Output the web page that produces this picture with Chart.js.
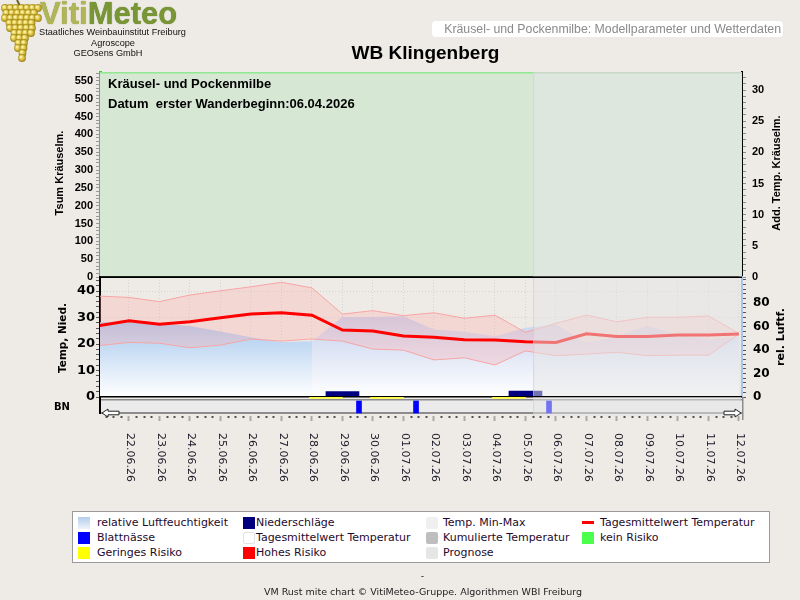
<!DOCTYPE html>
<html lang="de"><head><meta charset="utf-8"><title>WB Klingenberg</title>
<script src="https://cdn.jsdelivr.net/npm/chart.js@4.4.1/dist/chart.umd.min.js"></script>
<style>
html,body{margin:0;padding:0}
body{width:800px;height:600px;background:#EEEBE6;position:relative;overflow:hidden;font-family:"DejaVu Sans",sans-serif}
canvas.layer{position:absolute;left:0;top:0}
.abs{position:absolute;white-space:nowrap}
.vt{position:absolute;white-space:nowrap;transform:translate(-50%,-50%) rotate(-90deg)}
.lg{position:absolute;font:11px "DejaVu Sans";color:#1E0A2E;line-height:13px;white-space:nowrap}
.sw{position:absolute;width:12px;height:12px}
</style></head><body>
<canvas id="logo" width="46" height="64" style="position:absolute;left:0;top:0"></canvas>
<div class="abs" style="left:40px;top:-2px;font:bold 31px 'Liberation Sans';line-height:31px"><span style="color:#B0B657;text-shadow:0 0 1px #6E7A20">Viti</span><span style="color:#789634;text-shadow:0 0 1px #4E6A18">Meteo</span></div>
<div class="abs" style="left:39px;top:26px;font:9.2px 'Liberation Sans';line-height:12px;color:#111">Staatliches Weinbauinstitut Freiburg</div>
<div class="abs" style="left:53px;width:120px;text-align:center;top:37px;font:9.2px 'Liberation Sans';line-height:12px;color:#111">Agroscope</div>
<div class="abs" style="left:48px;width:120px;text-align:center;top:47px;font:9.2px 'Liberation Sans';line-height:12px;color:#111">GEOsens GmbH</div>

<div class="abs" style="left:432px;top:21px;width:351px;height:16px;background:#fff;border-radius:4px"></div>
<div class="abs" style="left:432px;top:21px;width:349px;text-align:right;font:12.3px 'Liberation Sans';line-height:16px;color:#8A8A8A">Kräusel- und Pockenmilbe: Modellparameter und Wetterdaten</div>
<div class="abs" style="left:300px;width:251px;text-align:center;top:42px;font:bold 19px 'Liberation Sans';line-height:22px;color:#000">WB Klingenberg</div>

<canvas id="cTop" class="layer" width="800" height="600"></canvas>
<canvas id="cMid" class="layer" width="800" height="600"></canvas>
<canvas id="cBN" class="layer" width="800" height="600"></canvas>

<div class="abs" style="left:108px;top:76px;font:bold 13px 'Liberation Sans';line-height:15px;color:#000">Kräusel- und Pockenmilbe</div>
<div class="abs" style="left:108px;top:96px;font:bold 13px 'Liberation Sans';line-height:15px;color:#000;white-space:pre">Datum  erster Wanderbeginn:06.04.2026</div>

<div class="vt" style="left:59px;top:173px;font:bold 11px 'Liberation Sans';color:#000">Tsum Kräuselm.</div>
<div class="vt" style="left:776px;top:173px;font:bold 11px 'Liberation Sans';color:#000">Add. Temp. Kräuselm.</div>
<div class="vt" style="left:62px;top:338px;font:bold 10.5px 'DejaVu Sans';color:#000">Temp, Nied.</div>
<div class="vt" style="left:780px;top:337px;font:bold 11px 'DejaVu Sans';color:#000">rel. Luftf.</div>
<div class="abs" style="left:54px;top:401px;font:bold 10px 'DejaVu Sans';line-height:12px;color:#000">BN</div>

<div class="abs" style="left:72px;top:511px;width:696px;height:50px;background:#fff;border:1px solid #9A9A9A"></div>
<div id="legend"></div>

<div class="abs" style="left:300px;width:245px;text-align:center;top:570px;font:9.5px 'DejaVu Sans';line-height:12px;color:#222">-</div>
<div class="abs" style="left:200px;width:446px;text-align:center;top:586px;font:9.5px 'DejaVu Sans';line-height:12px;color:#222">VM Rust mite chart © VitiMeteo-Gruppe. Algorithmen WBI Freiburg</div>

<script>
// ---------------- DATA ----------------
const dates = ['21.06.26','22.06.26','23.06.26','24.06.26','25.06.26','26.06.26','27.06.26','28.06.26','29.06.26','30.06.26','01.07.26','02.07.26','03.07.26','04.07.26','05.07.26','06.07.26','07.07.26','08.07.26','09.07.26','10.07.26','11.07.26','12.07.26'];
const tempMax  = [38.1,37.6,36.0,38.5,40.1,41.6,43.3,41.2,31.3,32.6,30.7,31.8,29.7,30.9,24.4,27.8,30.9,28.4,30.1,30.1,30.6,24.0];
const tempMean = [26.9,28.8,27.5,28.4,29.9,31.3,31.8,30.9,25.3,24.9,23.0,22.6,21.6,21.5,20.9,20.6,23.9,22.8,22.8,23.4,23.4,23.8];
const tempMin  = [19.4,20.6,20.3,18.6,19.6,21.9,21.1,21.9,21.1,18.1,17.7,14.0,14.8,12.1,17.4,15.6,16.2,16.9,15.6,15.8,15.8,23.7];
const humidity = [63.7,63.7,62.5,60.5,56.0,51.0,47.0,47.5,68.2,68.2,69.0,57.6,55.6,51.9,59.1,61.9,46.2,51.9,60.5,53.3,49.0,51.0];
const precipitation = [0,0,0,0,0,0,0,0,2.0,0,0,0,0,0,2.2,0,0,0,0,0,0,0];
const leafWetnessTimes = [8.46, 10.33, 14.69];
const lowRiskDays = [8, 10, 14];
const riskTopPanel = ['kein','kein','kein','kein','kein','kein','kein','kein','kein','kein','kein','kein','kein','kein','kein','kein','kein','kein','kein','kein','kein','kein'];
const tsumKraeuselm = [0,0,0,0,0,0,0,0,0,0,0,0,0,0,0,0,0,0,0,0,0,0];
const tsumTicks = [0,50,100,150,200,250,300,350,400,450,500,550];
const addTempTicks = [0,5,10,15,20,25,30];
const tempTicks = [0,10,20,30,40];
const humTicks = [0,20,40,60,80];
const prognoseStart = 14.25;
const humMeasuredEnd = 7;

// ---------------- HELPERS ----------------
const XMIN = 0.05, XMAX = 21.1;
const pts = arr => arr.map((v,i)=>({x:i,y:v}));
const tv = c => (c && c.tick) ? c.tick.value : NaN;
const stepTicks = (max, step) => { const t=[]; for(let k=0;k*step<=max+1e-9;k++) t.push({value:Math.round(k*step*1000)/1000}); return t; };
const xCommon = (grid, z) => ({
  type:'linear', min:XMIN, max:XMAX, position:'bottom', offset:false, z:z||0,
  afterFit: s => { s.height = 0; },
  afterBuildTicks: s => { s.ticks = dates.map((d,i)=>({value:i})).filter(t=>t.value>=1); },
  ticks:{display:false},
  grid: Object.assign({drawTicks:false, offset:false}, grid),
  border:{display:false, dash:[1,2]}
});
const base = (padTop, padBottom, padL, padR) => ({
  responsive:false, maintainAspectRatio:false, animation:false, events:[],
  layout:{padding:{top:padTop,bottom:padBottom,left:padL,right:padR}},
  plugins:{legend:{display:false}, tooltip:{enabled:false}}
});
const overlayPlugin = {
  id:'prognose',
  afterDatasetsDraw(chart){
    const {ctx, chartArea:a, scales} = chart;
    const x0 = scales.x.getPixelForValue(prognoseStart);
    ctx.save();
    ctx.fillStyle='rgba(230,230,230,0.5)';
    ctx.fillRect(x0, a.top, a.right - 1 - x0, a.bottom - a.top);
    ctx.fillStyle='rgba(200,200,200,0.5)';
    ctx.fillRect(x0, a.top, 1, a.bottom - a.top);
    ctx.restore();
  }
};

// ---------------- TOP PANEL ----------------
const cfgTop = base(72, 600-277, 0, 0);
cfgTop.scales = {
  x: xCommon({color:'rgba(255,255,255,0.45)'}, 1),
  yL: {position:'left', min:0, max:575,
    afterFit:s=>{s.width=100;},
    afterBuildTicks:s=>{s.ticks=stepTicks(575,10);},
    ticks:{autoSkip:false, padding:3, color:'#000', font:{family:'Liberation Sans',weight:'bold',size:11},
      callback:v=>tsumTicks.includes(v)?String(v):''},
    grid:{color:c=>(tv(c)%100===0 && tv(c)>0)?'rgba(255,255,255,0.45)':'transparent', tickColor:'#9A9A9A', tickLength:4},
    border:{color:'#22DD22', width:3, dash:[1,2]}, z:1},
  yR: {position:'right', min:0, max:32.9,
    afterFit:s=>{s.width=58;},
    afterBuildTicks:s=>{s.ticks=stepTicks(32.9,1);},
    ticks:{autoSkip:false, padding:6, color:'#000', font:{family:'Liberation Sans',weight:'bold',size:11},
      callback:v=>addTempTicks.includes(v)?String(v):''},
    grid:{drawOnChartArea:false, tickColor:'#8A8A8A', tickLength:4},
    border:{color:'#000', width:2}},
  yRisk: {display:false, min:0, max:1}
};
new Chart(document.getElementById('cTop'), {
  type:'bar',
  data:{datasets:[
    {type:'line', label:'Tsum Kräuselm.', data:pts(tsumKraeuselm), yAxisID:'yL', borderColor:'#000', borderWidth:1.5, pointRadius:0, order:1},
    {type:'bar', label:'kein Risiko', data:riskTopPanel.map((r,i)=>({x:i,y:r==='kein'?1:0})), yAxisID:'yRisk',
      backgroundColor:'#D6E8D4', borderWidth:0, barThickness:32, order:5}
  ]},
  options:cfgTop,
  plugins:[overlayPlugin,{
    id:'frameTop',
    afterDraw(chart){
      const {ctx, chartArea:a, scales} = chart;
      const x0 = scales.x.getPixelForValue(prognoseStart);
      ctx.save();
      ctx.fillStyle='#90E890'; ctx.fillRect(a.left, a.top, x0-a.left, 1.5);
      ctx.fillStyle='#C8D8C8'; ctx.fillRect(x0, a.top, a.right-x0, 1.5);
      ctx.restore();
    }
  }]
});

// ---------------- MIDDLE PANEL ----------------
function humGrad(top){
  return (c)=>{
    const ch=c.chart, a=ch.chartArea;
    if(!a) return top;
    const g=ch.ctx.createLinearGradient(0, a.top+38, 0, a.bottom);
    g.addColorStop(0, top); g.addColorStop(1, 'rgba(255,255,255,1)');
    return g;
  };
}
const cfgMid = base(277, 600-397, 0, 0);
cfgMid.scales = {
  x: xCommon({color:'#D4D4D4'}),
  yT: {position:'left', min:0, max:45.3,
    afterFit:s=>{s.width=100;},
    afterBuildTicks:s=>{s.ticks=stepTicks(44,2);},
    ticks:{autoSkip:false, padding:1, color:'#000', font:{family:'DejaVu Sans',weight:'bold',size:13},
      callback:v=>tempTicks.includes(v)?String(v):''},
    grid:{color:c=>(tempTicks.includes(tv(c)) && tv(c)>0)?'#D4D4D4':'transparent', tickColor:'#555', tickLength:4},
    border:{color:'#000', width:2, dash:[1,2]}},
  yH: {position:'right', min:0, max:102.4,
    afterFit:s=>{s.width=58;},
    afterBuildTicks:s=>{s.ticks=stepTicks(100,4);},
    ticks:{autoSkip:false, padding:7, color:'#000', font:{family:'DejaVu Sans',weight:'bold',size:12},
      callback:v=>humTicks.includes(v)?String(v):''},
    grid:{drawOnChartArea:false, tickColor:'#555', tickLength:4},
    border:{color:'#A8C4E8', width:2}}
};
new Chart(document.getElementById('cMid'), {
  type:'line',
  data:{datasets:[
    {type:'line', label:'Tagesmittelwert Temperatur', data:pts(tempMean), yAxisID:'yT', borderColor:'#FF0000', borderWidth:3, pointRadius:0, tension:0, fill:false, order:1},
    {type:'bar', label:'Niederschläge', data:pts(precipitation).filter(p=>p.y>0), yAxisID:'yT', backgroundColor:'#000080', borderWidth:0, barThickness:33, order:2},
    {type:'line', label:'Temp. Max', data:pts(tempMax), yAxisID:'yT', borderColor:'#F7A4A4', borderWidth:1, pointRadius:0, tension:0, fill:3, backgroundColor:'rgba(255,170,170,0.3)', order:3},
    {type:'line', label:'Temp. Min', data:pts(tempMin), yAxisID:'yT', borderColor:'#F7A4A4', borderWidth:1, pointRadius:0, tension:0, fill:false, order:4},
    {type:'line', label:'relative Luftfeuchtigkeit', data:pts(humidity).slice(humMeasuredEnd), yAxisID:'yH', borderWidth:0, pointRadius:0, tension:0, fill:'origin', backgroundColor:humGrad('rgb(196,208,236)'), order:5},
    {type:'line', label:'relative Luftfeuchtigkeit (Messung)', data:pts(humidity).slice(0, humMeasuredEnd+1), yAxisID:'yH', borderWidth:0, pointRadius:0, tension:0, fill:'origin', backgroundColor:humGrad('rgb(160,196,236)'), order:6}
  ]},
  options:cfgMid,
  plugins:[overlayPlugin,{
    id:'frameMid',
    afterDraw(chart){
      const {ctx, chartArea:a} = chart;
      ctx.save();
      ctx.fillStyle='#000';
      ctx.fillRect(a.left, a.top-0.5, a.right-a.left, 1.5);
      ctx.fillRect(a.left, a.bottom-1, a.right-a.left, 1.5);
      ctx.restore();
    }
  }]
});

// ---------------- BN STRIP + X AXIS ----------------
const cfgBN = base(397, 178, 100, 58);
cfgBN.scales = {
  x: {type:'linear', min:XMIN, max:XMAX, position:'bottom', offset:false,
    afterFit:s=>{s.height=6;},
    afterBuildTicks:s=>{ const t=[]; for(let k=1;k<=84;k++) t.push({value:k/4}); s.ticks=t; },
    ticks:{display:false},
    grid:{drawOnChartArea:false, drawTicks:true, tickLength:5, offset:false,
      tickColor:c=>Number.isInteger(tv(c))?'#A8A8A8':'#505050',
      tickWidth:2,
      tickBorderDash:c=>Number.isInteger(tv(c))?[]:[2,10]},
    border:{display:false}},
  yB: {display:false, min:-0.25, max:1.3333},
  yRisk: {display:false, min:-11.67, max:1}
};
new Chart(document.getElementById('cBN'), {
  type:'bar',
  data:{datasets:[
    {type:'bar', label:'Blattnässe', data:leafWetnessTimes.map(t=>({x:t,y:1})), yAxisID:'yB', backgroundColor:'#0000FF', borderWidth:0, barThickness:5, order:2},
    {type:'bar', label:'Geringes Risiko', data:lowRiskDays.map(d=>({x:d,y:1})), yAxisID:'yRisk', backgroundColor:'#FFFF40', borderWidth:0, barThickness:33, order:1}
  ]},
  options:cfgBN,
  plugins:[overlayPlugin,{
    id:'bnStrip',
    beforeDatasetsDraw(chart){
      const {ctx, chartArea:a} = chart;
      ctx.save();
      ctx.fillStyle='#EBEBEB'; ctx.fillRect(a.left, 399, a.right-a.left, 14);
      ctx.fillStyle='#8C8C8C'; ctx.fillRect(a.left, 399, a.right-a.left, 1.5);
      ctx.fillRect(a.left, 412, a.right-a.left, 2);
      ctx.restore();
    },
    afterDraw(chart){
      const {ctx, chartArea:a, scales} = chart;
      ctx.save();
      ctx.fillStyle='#000'; ctx.fillRect(a.left-1, 397, 2, 17);
      ctx.fillStyle='#8C8C8C'; ctx.fillRect(a.right, 397, 1.5, 23);
      const arrow=(tip,dir)=>{
        ctx.beginPath();
        ctx.moveTo(tip,413);
        ctx.lineTo(tip+dir*6,409);
        ctx.lineTo(tip+dir*6,411.2);
        ctx.lineTo(tip+dir*17,411.2);
        ctx.lineTo(tip+dir*17,414.8);
        ctx.lineTo(tip+dir*6,414.8);
        ctx.lineTo(tip+dir*6,417);
        ctx.closePath();
        ctx.fillStyle='#fff'; ctx.fill();
        ctx.strokeStyle='#222'; ctx.lineWidth=1; ctx.stroke();
      };
      arrow(a.left+2, 1); arrow(a.right-1, -1);
      ctx.font='11px "DejaVu Sans"'; ctx.fillStyle='#1A1A28';
      ctx.textAlign='left'; ctx.textBaseline='middle';
      dates.forEach((d,i)=>{
        if(i<1) return;
        const x=scales.x.getPixelForValue(i);
        ctx.save(); ctx.translate(x+1, 433); ctx.rotate(Math.PI/2); ctx.fillText(d,0,0); ctx.restore();
      });
      ctx.restore();
    }
  }]
});

// ---------------- LOGO (grapes) ----------------
(function(){
  const c=document.getElementById('logo').getContext('2d');
  c.strokeStyle='#6E6028'; c.lineWidth=2; c.beginPath(); c.moveTo(17,0); c.lineTo(21,8); c.stroke();
  const rows=[[8,1,41],[13,0,42],[18,1,41],[23,3,39],[28,6,37],[33,8,34],[38,10,32],[43,12,30],[48,14,28],[53,16,27],[58,18,25]];
  rows.forEach(([y,x0,x1],r)=>{
    for(let x=x0+4+(r%2)*2.5;x<=x1-3;x+=5.5){
      const g=c.createRadialGradient(x-1.2,y-1.2,0.4,x,y,4.2);
      g.addColorStop(0,'#FFF6B0'); g.addColorStop(0.5,'#DCC040'); g.addColorStop(1,'#8C7A18');
      c.fillStyle=g; c.beginPath(); c.arc(x,y,3.9,0,Math.PI*2); c.fill();
    }
  });
})();

// ---------------- LEGEND ----------------
const legendItems = [
  {col:0,row:0,label:'relative Luftfeuchtigkeit',sw:'background:linear-gradient(#B4CDEE,#EEF3FB)'},
  {col:0,row:1,label:'Blattnässe',sw:'background:#0000FF'},
  {col:0,row:2,label:'Geringes Risiko',sw:'background:#FFFF00'},
  {col:1,row:0,label:'Niederschläge',sw:'background:#00007F'},
  {col:1,row:1,label:'Tagesmittelwert Temperatur',sw:'background:#fff;border:1px solid #E2E2E2;width:10px;height:10px;border-radius:2px'},
  {col:1,row:2,label:'Hohes Risiko',sw:'background:#FF0000'},
  {col:2,row:0,label:'Temp. Min-Max',sw:'background:#F0F0F0;border-radius:2px'},
  {col:2,row:1,label:'Kumulierte Temperatur',sw:'background:#BEBEBE;border-radius:2px'},
  {col:2,row:2,label:'Prognose',sw:'background:#E6E6E6;border-radius:2px'},
  {col:3,row:0,label:'Tagesmittelwert Temperatur',sw:'background:#FF0000;height:3px'},
  {col:3,row:1,label:'kein Risiko',sw:'background:#4CFF4C'}
];
const colSw=[78,243,426,582], colTx=[97,256,443,600], rowC=[522.5,537.5,552.5];
const lg=document.getElementById('legend');
legendItems.forEach(it=>{
  const isLine = it.col===3 && it.row===0;
  const s=document.createElement('div'); s.className='sw';
  s.style.cssText='left:'+colSw[it.col]+'px;top:'+(isLine?rowC[it.row]-1.5:rowC[it.row]-6)+'px;'+it.sw;
  lg.appendChild(s);
  const t=document.createElement('div'); t.className='lg';
  t.style.left=colTx[it.col]+'px'; t.style.top=(rowC[it.row]-6.5)+'px';
  t.textContent=it.label; lg.appendChild(t);
});
</script>
</body></html>
